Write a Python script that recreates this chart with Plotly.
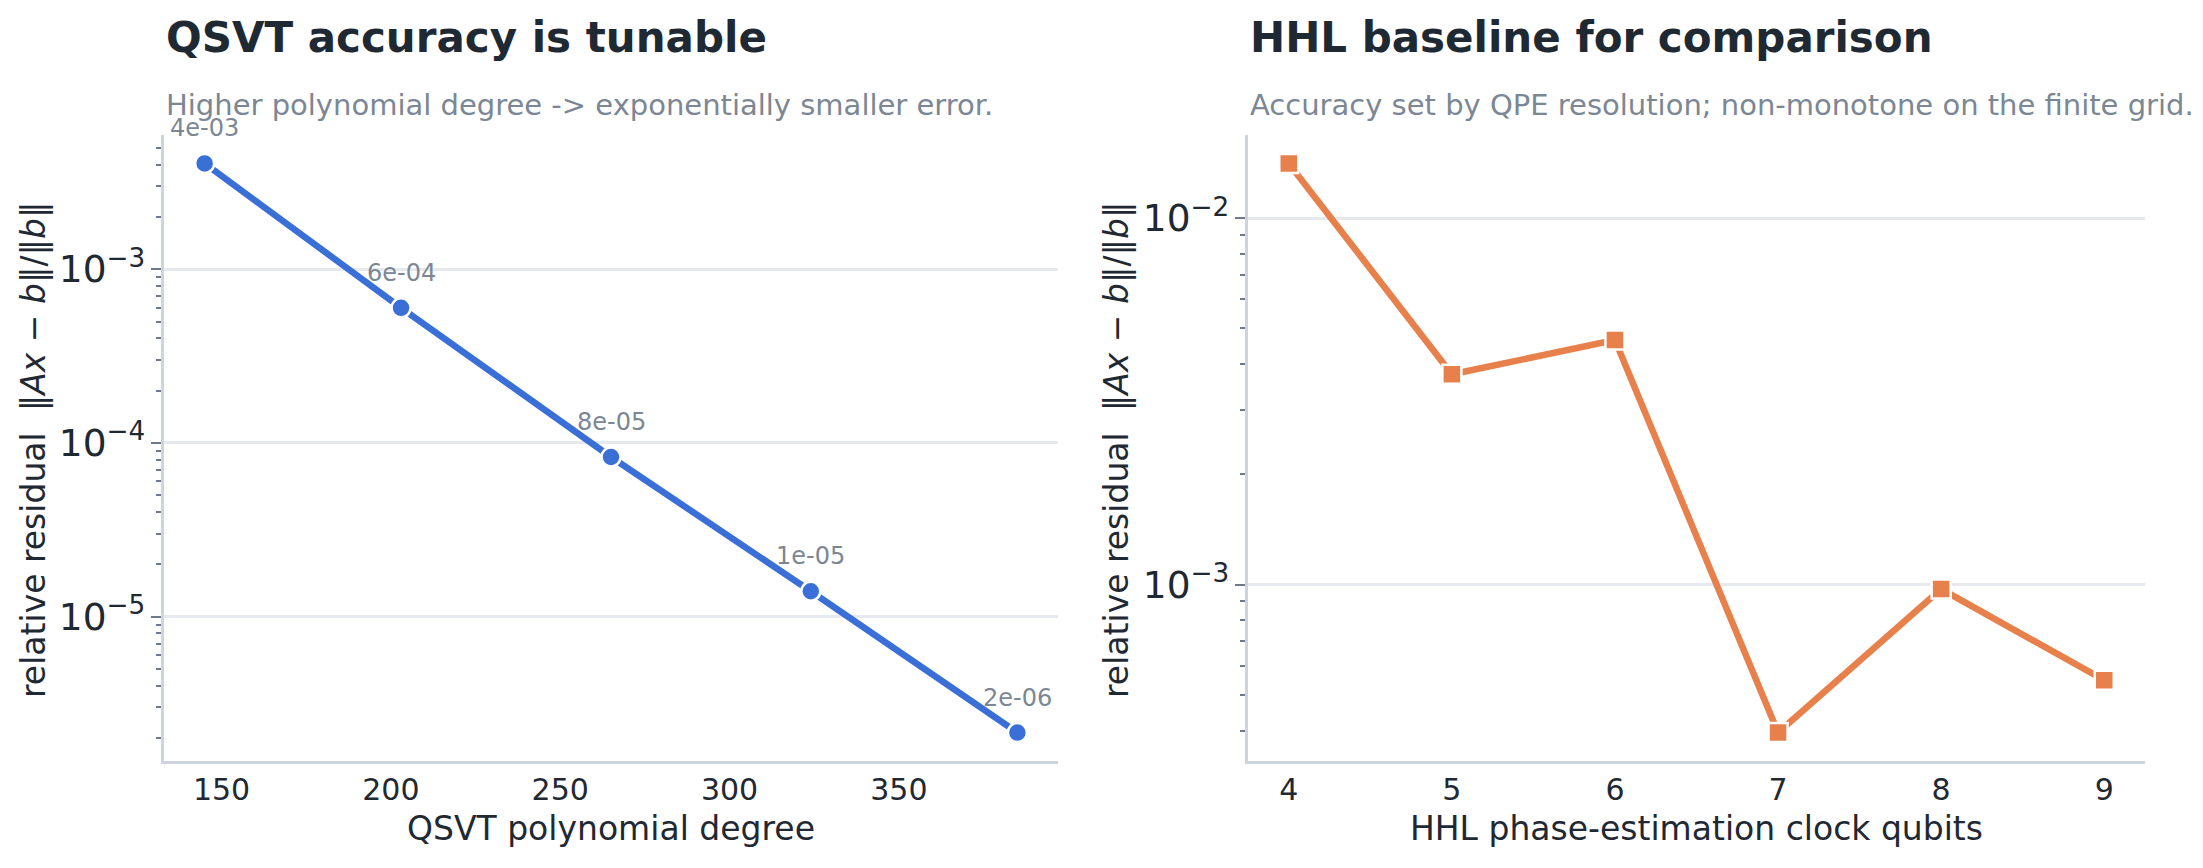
import numpy as np
import plotly.graph_objects as go

# values
qsvt_degree = [145, 203, 265, 324, 385]
qsvt_residual = [4.07e-3, 6.0e-4, 8.3e-5, 1.40e-5, 2.15e-6]

hhl_qubits = [4, 5, 6, 7, 8, 9]
hhl_residual = [1.41e-2, 3.75e-3, 4.65e-3, 3.95e-4, 9.73e-4, 5.49e-4]

titles = ["QSVT accuracy is tunable", "HHL baseline for comparison"]
subtitles = ["Higher polynomial degree -> exponentially smaller error.",
             "Accuracy set by QPE resolution; non-monotone on the finite grid."]
xlabels = ["QSVT polynomial degree", "HHL phase-estimation clock qubits"]
ylabel = "relative residual\u00a0 \u2016<i>Ax</i> \u2212 <i>b</i>\u2016/\u2016<i>b</i>\u2016"

W, H = 2203, 868
FONT = "DejaVu Sans"
DARK = "#1f2933"
GREY = "#7b8794"
SPINE = "#cdd4de"
GRID = "#e6e9ee"
TICK = "#6e7a8a"
BLUE = "#3a6fd8"
ORANGE = "#e8804c"


def pad(lo, hi, frac=0.05):
    d = (hi - lo) * frac
    return [lo - d, hi + d]


fig = go.Figure()

fig.add_trace(go.Scatter(x=qsvt_degree, y=qsvt_residual, mode="lines+markers",
                         line=dict(color=BLUE, width=6.5),
                         marker=dict(symbol="circle", size=19, color=BLUE,
                                     line=dict(color="white", width=2.5)),
                         xaxis="x", yaxis="y", hoverinfo="skip"))
fig.add_trace(go.Scatter(x=hhl_qubits, y=hhl_residual, mode="lines+markers",
                         line=dict(color=ORANGE, width=6.5),
                         marker=dict(symbol="square", size=19, color=ORANGE,
                                     line=dict(color="white", width=2.5)),
                         xaxis="x2", yaxis="y2", hoverinfo="skip"))

# value labels above QSVT points
for d, r in zip(qsvt_degree, qsvt_residual):
    fig.add_annotation(x=d, y=np.log10(r), xref="x", yref="y", text=f"{r:.0e}",
                       showarrow=False, yshift=35,
                       font=dict(family=FONT, size=24, color=GREY))

# panel titles / subtitles / y titles
for x0, xt, t, s in zip([164 / W, 1248 / W], [33 / W, 1116 / W], titles, subtitles):
    fig.add_annotation(x=x0, y=1 - 37 / H, xref="paper", yref="paper",
                       xanchor="left", yanchor="middle", showarrow=False,
                       text=f"<b>{t}</b>", font=dict(family=FONT, size=42, color=DARK))
    fig.add_annotation(x=x0, y=1 - 105 / H, xref="paper", yref="paper",
                       xanchor="left", yanchor="middle", showarrow=False,
                       text=s, font=dict(family=FONT, size=29, color=GREY))
    fig.add_annotation(x=xt, y=1 - 450 / H, xref="paper", yref="paper",
                       xanchor="center", yanchor="middle", showarrow=False,
                       textangle=-90, text=ylabel,
                       font=dict(family=FONT, size=33, color=DARK))

ydom = [1 - 761 / H, 1 - 135 / H]
common_x = dict(showline=True, linecolor=SPINE, linewidth=2.5, showgrid=False,
                zeroline=False, ticks="", tickfont=dict(family=FONT, size=30, color=DARK),
                title_font=dict(family=FONT, size=33, color=DARK), title_standoff=12)
common_y = dict(type="log", showline=True, linecolor=SPINE, linewidth=2.5,
                showgrid=True, gridcolor=GRID, gridwidth=2.5, zeroline=False,
                dtick=1, exponentformat="power", ticks="outside", ticklen=10,
                tickwidth=2, tickcolor=TICK,
                minor=dict(ticks="outside", ticklen=5, tickwidth=2, tickcolor=TICK,
                           dtick="D1", showgrid=False),
                tickfont=dict(family=FONT, size=30, color=DARK))

fig.update_layout(
    width=W, height=H, margin=dict(l=0, r=0, t=0, b=0),
    paper_bgcolor="white", plot_bgcolor="white", showlegend=False,
    font=dict(family=FONT, color=DARK),
    xaxis=dict(common_x, domain=[164 / W, 1058 / W],
               range=pad(min(qsvt_degree), max(qsvt_degree)),
               tickvals=[150, 200, 250, 300, 350], title_text=xlabels[0],
               anchor="y"),
    yaxis=dict(common_y, domain=ydom, anchor="x",
               range=pad(np.log10(min(qsvt_residual)), np.log10(max(qsvt_residual)))),
    xaxis2=dict(common_x, domain=[1248 / W, 2145 / W],
                range=pad(min(hhl_qubits), max(hhl_qubits)),
                dtick=1, title_text=xlabels[1], anchor="y2"),
    yaxis2=dict(common_y, domain=ydom, anchor="x2",
                range=pad(np.log10(min(hhl_residual)), np.log10(max(hhl_residual)))),
)

fig.write_html("out.html", config={"displayModeBar": False},
               post_script="document.body.style.margin='0';")
